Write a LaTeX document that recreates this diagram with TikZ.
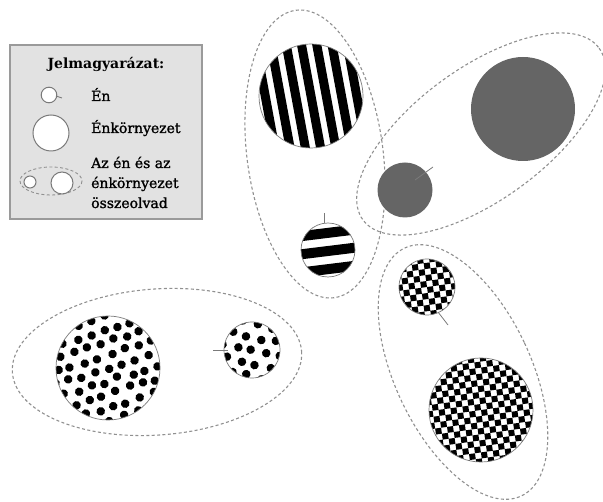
\documentclass[tikz,border=0pt]{standalone}
\usepackage{fontspec}
\setmainfont{DejaVu Serif}
\newfontfamily\legfont[FakeBold=1.3]{DejaVu Serif}
\definecolor{dashgray}{HTML}{909090}
\definecolor{rimgray}{HTML}{7A7A7A}
\definecolor{blobgray}{HTML}{656565}
\definecolor{legfill}{HTML}{E2E2E2}
\definecolor{legedge}{HTML}{9A9A9A}
\begin{document}
\begin{tikzpicture}[x=1pt,y=-1pt,
  grp/.style={draw=dashgray, line width=1.1pt, dash pattern=on 3pt off 2.4pt},
  rim/.style={draw=rimgray, line width=0.7pt},
  tickmark/.style={draw=rimgray, line width=0.8pt},
  legtext/.style={anchor=base west, inner sep=0pt, font=\legfont\fontsize{14}{18}\selectfont},
  legcirc/.style={draw=rimgray, fill=white, line width=1pt}]
\path[use as bounding box] (0,0) rectangle (603,502);

% centres
\coordinate (sB) at (311,96);   % big striped
\coordinate (sS) at (328,250);  % small striped
\coordinate (gB) at (523,109);  % big grey
\coordinate (gS) at (405,190);  % small grey
\coordinate (cS) at (427,287);  % small checker
\coordinate (cB) at (481,410);  % big checker
\coordinate (dB) at (108,368);  % big dotted
\coordinate (dS) at (252,350);  % small dotted

% group ellipses
\draw[grp, rotate around={7.6:(315,154)}] (315,154) ellipse[x radius=68, y radius=145];
\draw[grp, rotate around={36:(481,134)}] (481,134) ellipse[x radius=146, y radius=66];
\draw[grp, rotate around={25.2:(463,372)}] (463,372) ellipse[x radius=68, y radius=137];
\draw[grp, rotate around={4.2:(157,362)}] (157,362) ellipse[x radius=145, y radius=73];

% big striped circle
\begin{scope}
  \clip (sB) circle[radius=52];
  \fill[white] (sB) circle[radius=52];
  \begin{scope}[shift={(sB)}, rotate=10.5]
    \foreach \k in {-4,...,4} \fill ({\k*15-4.5},-70) rectangle ({\k*15+4.5},70);
  \end{scope}
\end{scope}
\draw[rim] (sB) circle[radius=52];

% small striped circle
\begin{scope}
  \clip (sS) circle[radius=27];
  \fill[white] (sS) circle[radius=27];
  \begin{scope}[shift={(sS)}, rotate=7]
    \foreach \k in {-1,0,1} \fill (-40,{\k*18-4}) rectangle (40,{\k*18+6});
  \end{scope}
\end{scope}
\draw[rim] (sS) circle[radius=27];
\coordinate (tS1) at (324,213);
\coordinate (tS2) at (324,223);
\draw[tickmark] (tS1) -- (tS2);

% grey circles
\fill[blobgray] (gB) circle[radius=52];
\fill[blobgray] (gS) circle[radius=27.5];
\coordinate (tG1) at (415,180);
\coordinate (tG2) at (433,167);
\draw[tickmark] (tG1) -- (tG2);

% checker circles
\begin{scope}
  \clip (cB) circle[radius=52];
  \fill[white] (cB) circle[radius=52];
  \begin{scope}[shift={(cB)}, rotate=8]
    \foreach \i in {-10,...,9} \foreach \j in {-10,-8,...,8}
      \fill ({\i*6},{(\j+mod(\i+20,2))*6}) rectangle ++(6,6);
  \end{scope}
\end{scope}
\draw[rim] (cB) circle[radius=52];
\begin{scope}
  \clip (cS) circle[radius=28];
  \fill[white] (cS) circle[radius=28];
  \begin{scope}[shift={(cS)}, rotate=8]
    \foreach \i in {-6,...,5} \foreach \j in {-6,-4,...,4}
      \fill ({\i*6},{(\j+mod(\i+20,2))*6}) rectangle ++(6,6);
  \end{scope}
\end{scope}
\draw[rim] (cS) circle[radius=28];
\coordinate (tC1) at (438,312);
\coordinate (tC2) at (448,325);
\draw[tickmark] (tC1) -- (tC2);

% dotted circles
\pgfmathsetseed{7}
\begin{scope}
  \clip (dB) circle[radius=52];
  \fill[white] (dB) circle[radius=52];
  \begin{scope}[shift={(dB)}, rotate=18]
    \foreach \i in {-5,...,5} \foreach \j in {-5,...,5}
      \fill ({\i*14+mod(\j+20,2)*7+rand*1.8},{\j*12.5+rand*1.8}) circle[radius=4.3];
  \end{scope}
\end{scope}
\draw[rim] (dB) circle[radius=52];
\begin{scope}
  \clip (dS) circle[radius=28];
  \fill[white] (dS) circle[radius=28];
  \begin{scope}[shift={(dS)}, rotate=-12]
    \foreach \i in {-3,...,3} \foreach \j in {-3,...,3}
      \fill ({\i*14.5+mod(\j+20,2)*7+rand*1.5},{\j*13+rand*1.5}) circle[radius=4.3];
  \end{scope}
\end{scope}
\draw[rim] (dS) circle[radius=28];
\coordinate (tD1) at (213,350);
\coordinate (tD2) at (228,350);
\draw[tickmark] (tD1) -- (tD2);

% legend
\draw[draw=legedge, fill=legfill, line width=1.2pt] (10,45) rectangle (202,219);
\node[anchor=base, inner sep=0pt, font=\bfseries\fontsize{14}{18}\selectfont] (title) at (106,69) {Jelmagyarázat:};
\coordinate (lS) at (49,95);
\draw[legcirc] (lS) circle[radius=7.8];
\coordinate (lT1) at (56,96);
\coordinate (lT2) at (62,98);
\draw[tickmark] (lT1) -- (lT2);
\node[legtext] (en) at (91,101) {Én};
\coordinate (lB) at (51,133);
\draw[legcirc] (lB) circle[radius=18];
\node[legtext] (enk) at (91,133) {Énkörnyezet};
\draw[grp, line width=0.9pt] (51,181) ellipse[x radius=31, y radius=14];
\coordinate (lm1) at (30,182);
\coordinate (lm2) at (62,183);
\draw[legcirc] (lm1) circle[radius=6];
\draw[legcirc] (lm2) circle[radius=11];
\node[legtext] (l1) at (91,168) {Az én és az};
\node[legtext] (l2) at (91,188) {énkörnyezet};
\node[legtext] (l3) at (91,208) {összeolvad};
\end{tikzpicture}
\end{document}
